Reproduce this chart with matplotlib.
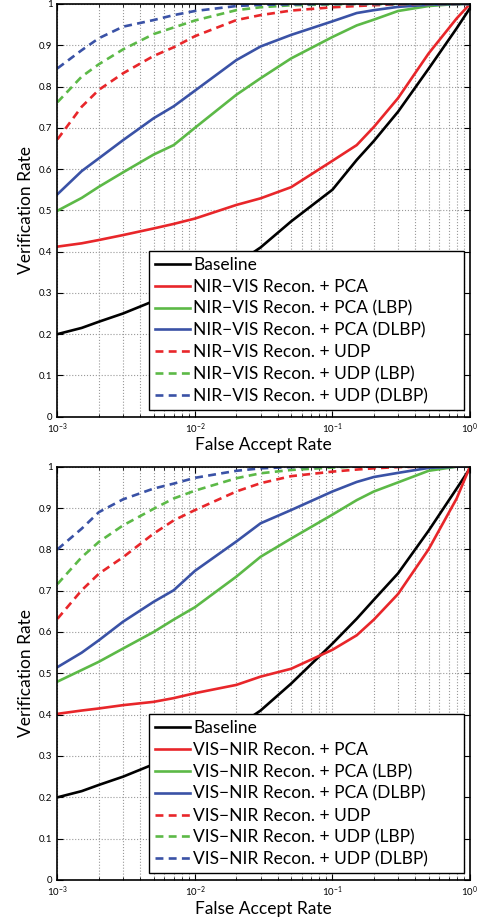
import matplotlib
matplotlib.use('Agg')
import matplotlib.pyplot as plt
import numpy as np

plt.rcParams['font.family'] = ['Lato', 'DejaVu Sans']
plt.rcParams['mathtext.fontset'] = 'custom'
plt.rcParams['mathtext.rm'] = 'Lato'

# false accept rate sample points (shared)
far = [1e-3, 1.5e-3, 2e-3, 3e-3, 5e-3, 7e-3, 1e-2, 2e-2, 3e-2, 5e-2,
       1e-1, 1.5e-1, 2e-1, 3e-1, 5e-1, 8e-1, 1.0]

# top panel: NIR-VIS
top_baseline = [0.20, 0.215, 0.23, 0.25, 0.28, 0.30, 0.32, 0.37, 0.41, 0.473,
                0.55, 0.622, 0.668, 0.739, 0.843, 0.941, 0.99]
top_pca = [0.412, 0.42, 0.428, 0.44, 0.456, 0.467, 0.48, 0.513, 0.529, 0.556,
           0.62, 0.658, 0.702, 0.772, 0.88, 0.965, 1.0]
top_pca_lbp = [0.499, 0.53, 0.557, 0.592, 0.635, 0.658, 0.70, 0.78, 0.82, 0.868,
               0.92, 0.948, 0.962, 0.983, 0.995, 1.0, 1.0]
top_pca_dlbp = [0.539, 0.595, 0.626, 0.67, 0.723, 0.752, 0.79, 0.864, 0.897, 0.925,
                0.958, 0.978, 0.985, 0.993, 0.998, 1.0, 1.0]
top_udp = [0.672, 0.751, 0.792, 0.832, 0.874, 0.895, 0.922, 0.961, 0.973, 0.984,
           0.992, 0.995, 0.997, 0.999, 1.0, 1.0, 1.0]
top_udp_lbp = [0.762, 0.824, 0.854, 0.89, 0.927, 0.943, 0.96, 0.985, 0.992, 0.997,
               0.999, 1.0, 1.0, 1.0, 1.0, 1.0, 1.0]
top_udp_dlbp = [0.844, 0.888, 0.917, 0.945, 0.961, 0.973, 0.983, 0.995, 0.998, 0.999,
                1.0, 1.0, 1.0, 1.0, 1.0, 1.0, 1.0]

# bottom panel: VIS-NIR
bot_baseline = [0.20, 0.215, 0.23, 0.25, 0.28, 0.30, 0.32, 0.37, 0.41, 0.475,
                0.572, 0.632, 0.678, 0.742, 0.845, 0.947, 0.996]
bot_pca = [0.402, 0.41, 0.415, 0.423, 0.431, 0.44, 0.452, 0.472, 0.492, 0.511,
           0.557, 0.592, 0.63, 0.692, 0.80, 0.923, 1.0]
bot_pca_lbp = [0.48, 0.508, 0.528, 0.56, 0.60, 0.63, 0.66, 0.734, 0.782, 0.826,
               0.884, 0.919, 0.94, 0.962, 0.99, 1.0, 1.0]
bot_pca_dlbp = [0.515, 0.55, 0.58, 0.625, 0.673, 0.701, 0.748, 0.819, 0.863, 0.895,
                0.94, 0.963, 0.975, 0.985, 0.997, 1.0, 1.0]
bot_udp = [0.632, 0.701, 0.741, 0.781, 0.838, 0.87, 0.895, 0.94, 0.96, 0.977,
           0.988, 0.993, 0.996, 0.999, 1.0, 1.0, 1.0]
bot_udp_lbp = [0.716, 0.781, 0.818, 0.858, 0.898, 0.923, 0.942, 0.972, 0.984, 0.992,
               0.998, 1.0, 1.0, 1.0, 1.0, 1.0, 1.0]
bot_udp_dlbp = [0.80, 0.85, 0.89, 0.921, 0.947, 0.959, 0.973, 0.99, 0.996, 0.999,
                1.0, 1.0, 1.0, 1.0, 1.0, 1.0, 1.0]

methods = ['Baseline', 'Recon. + PCA', 'Recon. + PCA (LBP)', 'Recon. + PCA (DLBP)',
           'Recon. + UDP', 'Recon. + UDP (LBP)', 'Recon. + UDP (DLBP)']
colors = ['black', '#e8262a', '#5cb947', '#3a52a6', '#e8262a', '#5cb947', '#3a52a6']
styles = ['-', '-', '-', '-', '--', '--', '--']


def draw_panel(ax, curves, prefix):
    for i, (y, c, ls) in enumerate(zip(curves, colors, styles)):
        label = methods[i] if i == 0 else prefix + ' ' + methods[i]
        ax.plot(far, y, color=c, linestyle=ls, linewidth=1.9, label=label,
                dashes=(3, 2) if ls == '--' else (None, None))
    ax.set_xscale('log')
    ax.set_xlim(1e-3, 1)
    ax.set_ylim(0, 1)
    ax.set_yticks(np.arange(0, 1.01, 0.1))
    ax.set_yticklabels(['0', '0.1', '0.2', '0.3', '0.4', '0.5', '0.6', '0.7', '0.8', '0.9', '1'])
    ax.grid(True, which='major', linestyle=':', color='#999999', linewidth=0.8)
    ax.grid(True, which='minor', axis='x', linestyle=':', color='#999999', linewidth=0.8)
    ax.tick_params(which='both', direction='in', top=True, right=True, labelsize=7)
    ax.tick_params(which='major', length=4)
    ax.tick_params(which='minor', length=2)
    for s in ax.spines.values():
        s.set_linewidth(1.2)
    ax.set_xlabel('False Accept Rate', fontsize=12.5, labelpad=1)
    ax.set_ylabel('Verification Rate', fontsize=12.5, labelpad=4)
    leg = ax.legend(loc='lower left', bbox_to_anchor=(0.222, 0.016, 0.763, 0.38),
                    mode='expand', fontsize=12.5, frameon=True, fancybox=False,
                    edgecolor='black', framealpha=1, handlelength=2.0,
                    labelspacing=0.33, borderaxespad=0.0, handletextpad=0.2,
                    borderpad=0.35)
    leg.get_frame().set_linewidth(1.0)


fig = plt.figure(figsize=(4.81, 9.23), dpi=100)
ax1 = fig.add_axes([0.1195, 0.5486, 0.8576, 0.4471])
ax2 = fig.add_axes([0.1195, 0.0466, 0.8576, 0.4478])

draw_panel(ax1, [top_baseline, top_pca, top_pca_lbp, top_pca_dlbp,
                 top_udp, top_udp_lbp, top_udp_dlbp], 'NIR\u2212VIS')
draw_panel(ax2, [bot_baseline, bot_pca, bot_pca_lbp, bot_pca_dlbp,
                 bot_udp, bot_udp_lbp, bot_udp_dlbp], 'VIS\u2212NIR')

fig.savefig('out.png', dpi=100)
